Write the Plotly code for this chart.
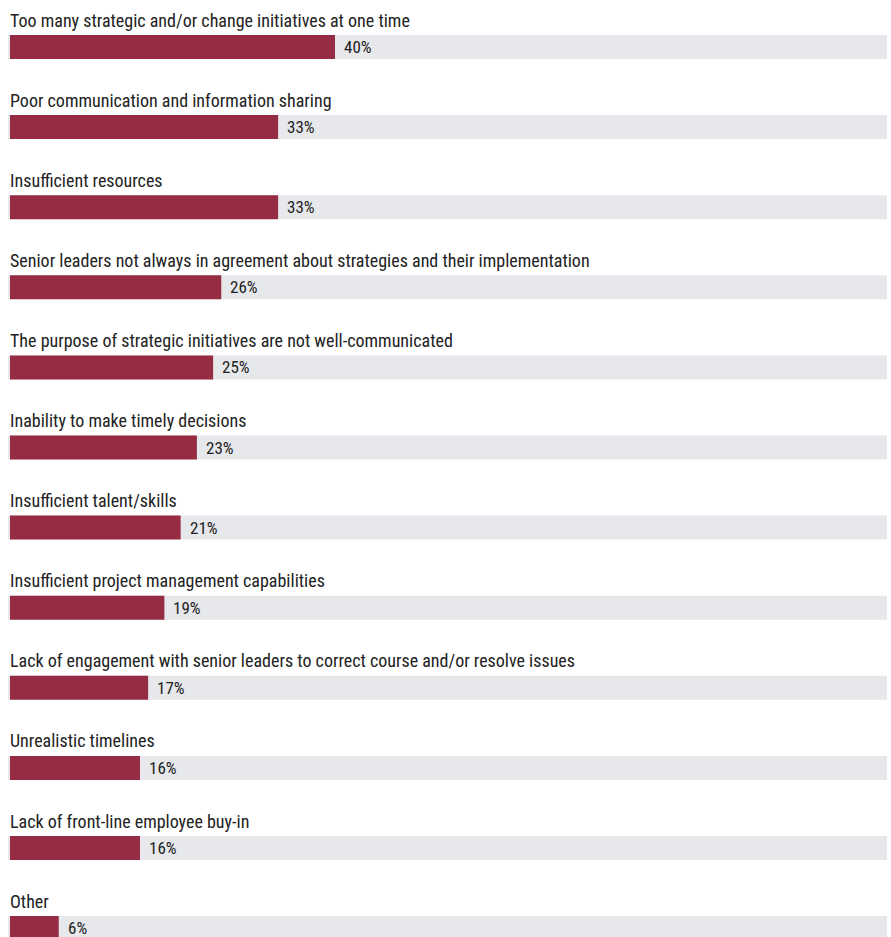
import plotly.graph_objects as go

categories = [
    "Too many strategic and/or change initiatives at one time",
    "Poor communication and information sharing",
    "Insufficient resources",
    "Senior leaders not always in agreement about strategies and their implementation",
    "The purpose of strategic initiatives are not well-communicated",
    "Inability to make timely decisions",
    "Insufficient talent/skills",
    "Insufficient project management capabilities",
    "Lack of engagement with senior leaders to correct course and/or resolve issues",
    "Unrealistic timelines",
    "Lack of front-line employee buy-in",
    "Other",
]
values = [40, 33, 33, 26, 25, 23, 21, 19, 17, 16, 16, 6]
value_labels = [f"{v}%" for v in values]

BAR_COLOR = "#952c43"
BG_COLOR = "#e6e8eb"
TEXT_COLOR = "#222222"
FONT = "Roboto Condensed, Liberation Sans Narrow, DejaVu Sans Condensed, Roboto, sans-serif"

W, H = 891, 937
PX_PER_PCT = 8.125
ROW_PX = 80.1
X0_PX = 10
Y0_PX = 47
BAR_H = 24

idx = list(range(len(categories)))

x_min = -X0_PX / PX_PER_PCT
x_max = (W - X0_PX) / PX_PER_PCT
y_top = -Y0_PX / ROW_PX
y_bot = (H - Y0_PX) / ROW_PX
bw = BAR_H / ROW_PX

bg_base = -2 / PX_PER_PCT
bg_len = (887 - 8) / PX_PER_PCT

fig = go.Figure()
fig.add_trace(go.Bar(
    y=idx, x=[bg_len] * len(idx), base=[bg_base] * len(idx),
    orientation="h", width=bw, marker=dict(color=BG_COLOR, line_width=0),
    hoverinfo="skip", showlegend=False,
))
fig.add_trace(go.Bar(
    y=idx, x=values, orientation="h", width=bw,
    marker=dict(color=BAR_COLOR, line_width=0),
    hovertext=categories, hoverinfo="text+x", showlegend=False,
))

for i, (c, v, t) in enumerate(zip(categories, values, value_labels)):
    fig.add_annotation(x=0, y=i, text=c, xanchor="left", yanchor="middle",
                       xshift=-2, yshift=27, showarrow=False,
                       font=dict(family=FONT, size=18, color=TEXT_COLOR))
    fig.add_annotation(x=v, y=i, text=t, xanchor="left", yanchor="middle",
                       xshift=8, yshift=0, showarrow=False, borderpad=0,
                       font=dict(family=FONT, size=17, color=TEXT_COLOR))

fig.update_layout(
    width=W, height=H, margin=dict(l=0, r=0, t=0, b=0),
    paper_bgcolor="white", plot_bgcolor="white",
    barmode="overlay",
    xaxis=dict(range=[x_min, x_max], visible=False, fixedrange=True),
    yaxis=dict(range=[y_bot, y_top], visible=False, fixedrange=True),
)

fig.write_html("out.html")
